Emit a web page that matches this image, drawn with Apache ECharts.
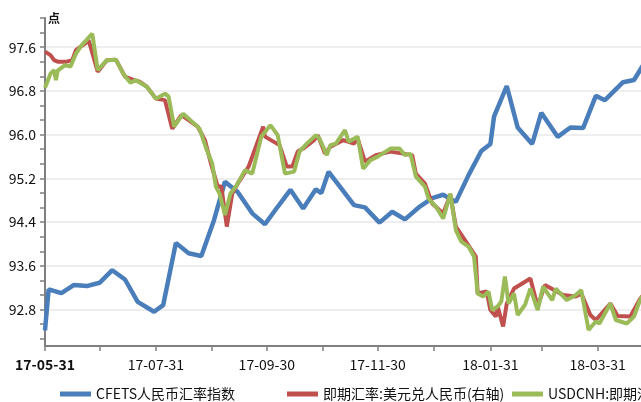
<!DOCTYPE html>
<html>
<head>
<meta charset="utf-8">
<script src="https://cdn.jsdelivr.net/npm/echarts@6/dist/echarts.min.js"></script>
<style>
html,body{margin:0;padding:0;background:#fff;}
#main{width:641px;height:402px;}
</style>
</head>
<body>
<div id="main"></div>
<script>
// x values are days after 2017-05-31
var monthEndTicks=[0,30,61,92,122,153,183,214,245,273,304,334];
var dateLabelDays=[0,61,122,183,245,304];
var leftLabels=[92.8,93.6,94.4,95.2,96.0,96.8,97.6];

// CFETS index (left axis, weekly)
var cfetsIndex=[
    [0,92.42],[2,93.17],[9,93.10],[16,93.25],[23,93.23],[30,93.29],[37,93.52],[44,93.35],
    [51,92.94],[60,92.76],[65,92.88],[72,94.02],[79,93.83],[86,93.78],[93,94.44],[99,95.14],
    [106,94.95],[114,94.56],[121,94.36],[128,94.68],[135,94.99],[142,94.65],[149,95.00],[152,94.93],
    [156,95.32],[170,94.71],[176,94.67],[184,94.39],[191,94.59],[198,94.45],[206,94.68],[213,94.84],
    [219,94.90],[226,94.77],[233,95.26],[240,95.70],[245,95.83],[247,96.33],[254,96.89],[260,96.13],
    [268,95.83],[273,96.40],[282,95.96],[289,96.13],[296,96.12],[303,96.71],[308,96.63],[318,96.96],
    [324,97.00],[329,97.27]
];
// USD/CNY spot (right axis)
var cnySpot=[
    [0,6.797],[3,6.79],[5,6.78],[7,6.777],[12,6.777],[15,6.78],[17,6.80],[22,6.813],[24,6.82],
    [29,6.757],[34,6.78],[39,6.781],[44,6.747],[49,6.74],[52,6.737],[56,6.727],[61,6.703],[66,6.70],
    [70,6.643],[75,6.67],[79,6.66],[84,6.647],[88,6.62],[91,6.577],[95,6.527],[97,6.527],[100,6.447],
    [103,6.513],[106,6.533],[112,6.567],[120,6.647],[121,6.627],[129,6.61],[133,6.567],[136,6.567],
    [139,6.597],[142,6.603],[148,6.62],[150,6.63],[154,6.593],[157,6.607],[164,6.62],[170,6.613],
    [172,6.623],[176,6.577],[182,6.59],[190,6.597],[197,6.593],[202,6.59],[204,6.553],[209,6.533],
    [213,6.493],[216,6.483],[219,6.473],[223,6.51],[226,6.447],[231,6.42],[237,6.387],[238,6.313],
    [243,6.317],[245,6.28],[248,6.267],[249,6.287],[252,6.247],[254,6.293],[258,6.323],[267,6.343],
    [271,6.287],[275,6.33],[280,6.32],[285,6.31],[292,6.307],[295,6.313],[300,6.27],[303,6.26],
    [311,6.293],[315,6.268],[322,6.267],[327,6.30],[329,6.31]
];
// USDCNH spot (right axis)
var usdCnh=[
    [0,6.725],[3,6.753],[5,6.76],[6,6.74],[7,6.759],[11,6.77],[14,6.767],[17,6.793],[20,6.809],
    [26,6.833],[29,6.76],[34,6.78],[39,6.781],[43,6.753],[47,6.735],[50,6.74],[56,6.727],[61,6.703],
    [66,6.713],[68,6.707],[71,6.647],[76,6.673],[83,6.65],[85,6.643],[89,6.60],[92,6.573],[94,6.527],
    [96,6.513],[99,6.47],[102,6.513],[105,6.527],[110,6.56],[114,6.553],[119,6.627],[124,6.65],
    [128,6.63],[132,6.553],[137,6.557],[140,6.597],[144,6.613],[149,6.63],[151,6.623],[155,6.59],
    [157,6.61],[160,6.613],[165,6.64],[167,6.617],[172,6.627],[175,6.563],[179,6.58],[183,6.587],
    [190,6.603],[195,6.603],[198,6.59],[201,6.593],[204,6.547],[209,6.527],[211,6.503],[215,6.487],
    [219,6.463],[223,6.513],[226,6.44],[229,6.417],[233,6.407],[236,6.387],[238,6.313],[241,6.307],
    [244,6.317],[246,6.28],[249,6.287],[251,6.297],[253,6.347],[255,6.293],[258,6.313],[260,6.27],
    [264,6.29],[267,6.323],[271,6.28],[274,6.327],[279,6.30],[281,6.323],[287,6.30],[292,6.31],
    [295,6.32],[299,6.24],[303,6.257],[305,6.253],[311,6.293],[314,6.26],[320,6.253],[324,6.267],
    [327,6.297],[329,6.31]
];
var seriesNames=['CFETS人民币汇率指数','即期汇率:美元兑人民币(右轴)','USDCNH:即期汇率(右轴)'];
var seriesColors=['#4a7ebb','#c0504d','#9bbb59'];

var leftTicks=[];
for(var k=-2;k<=20;k++){
    leftTicks.push(+(92.8+k*0.8/3).toFixed(4));
}
function dayLabel(d){
    var t=new Date(2017,4,31+d);
    var mm=('0'+(t.getMonth()+1)).slice(-2);
    var dd=('0'+t.getDate()).slice(-2);
    return String(t.getFullYear()).slice(2)+'-'+mm+'-'+dd;
}
var font='"Noto Sans CJK SC","Noto Sans",sans-serif';
var axisGrey='#808080';

// one legend block per series, fixed columns like the source chart
var legendLefts=[60,287,512];
var legends=seriesNames.map(function(name,i){
    return {
        data:[name],
        left:legendLefts[i],
        top:387,
        padding:0,
        width:600,
        icon:'rect',
        itemWidth:31,
        itemHeight:5,
        textStyle:{fontSize:14,color:'#111',fontFamily:font}
    };
});

var myChart=echarts.init(document.getElementById('main'));
var option={
    animation:false,
    textStyle:{fontFamily:font},
    grid:{left:45,top:18,width:609,height:328,containLabel:false,outerBoundsMode:'none'},
    legend:legends,
    xAxis:{
        type:'value',
        min:0,
        max:335,
        axisLine:{onZero:false,lineStyle:{color:axisGrey,width:2}},
        axisTick:{customValues:monthEndTicks,length:5,lineStyle:{color:axisGrey,width:1.5}},
        axisLabel:{
            customValues:dateLabelDays,
            fontSize:14,
            color:'#111',
            margin:12,
            formatter:function(v){
                var s=dayLabel(v);
                return v===0?'{b|'+s+'}':s;
            },
            rich:{b:{fontWeight:'bold',fontSize:14,color:'#111',fontFamily:font}}
        },
        splitLine:{show:false}
    },
    yAxis:[
        {
            type:'value',
            position:'left',
            min:92.1333,
            max:98.134,
            name:'点',
            nameLocation:'end',
            nameGap:0,
            nameTextStyle:{align:'left',verticalAlign:'middle',fontSize:12,fontWeight:'bold',color:'#111',padding:[0,0,0,3]},
            axisLine:{show:true,lineStyle:{color:axisGrey,width:2}},
            axisTick:{show:true,customValues:leftTicks,length:5,lineStyle:{color:axisGrey,width:1.5}},
            axisLabel:{
                customValues:leftLabels,
                fontSize:14,
                color:'#111',
                margin:9,
                formatter:function(v){return v.toFixed(1);}
            },
            splitLine:{show:false}
        },
        {
            type:'value',
            position:'right',
            min:6.208,
            max:6.8644,
            show:false
        },
        {
            type:'value',
            position:'left',
            min:92.1333,
            max:98.134,
            axisLine:{show:false},
            axisLabel:{show:false},
            axisTick:{show:false,customValues:leftLabels},
            splitLine:{show:true,lineStyle:{color:'#e8e8e8',width:1.5}}
        }
    ],
    series:[
        {
            name:seriesNames[0],
            type:'line',
            yAxisIndex:0,
            data:cfetsIndex,
            showSymbol:false,
            lineStyle:{width:4.5,color:seriesColors[0]},
            itemStyle:{color:seriesColors[0]}
        },
        {
            name:seriesNames[1],
            type:'line',
            yAxisIndex:1,
            data:cnySpot,
            showSymbol:false,
            lineStyle:{width:4,color:seriesColors[1]},
            itemStyle:{color:seriesColors[1]}
        },
        {
            name:seriesNames[2],
            type:'line',
            yAxisIndex:1,
            data:usdCnh,
            showSymbol:false,
            lineStyle:{width:4,color:seriesColors[2]},
            itemStyle:{color:seriesColors[2]}
        }
    ]
};
myChart.setOption(option,true);
</script>
</body>
</html>
